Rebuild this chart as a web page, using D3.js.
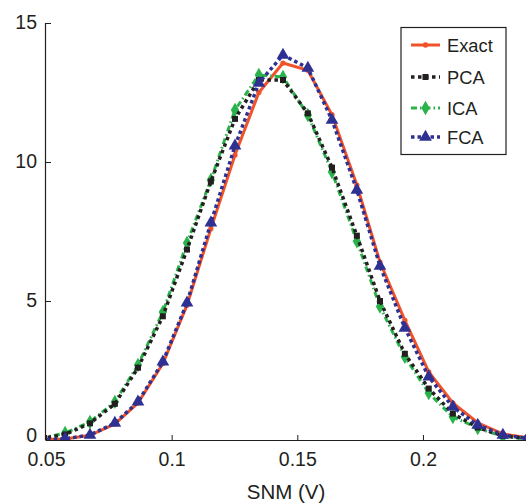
<!DOCTYPE html>
<html><head><meta charset="utf-8">
<script src="https://cdn.jsdelivr.net/npm/d3@7"></script>
<style>body{margin:0;background:#fff}svg{display:block}text{font-family:"Liberation Sans",Arial,sans-serif;fill:#231f20}</style>
</head><body>
<svg id="c" width="526" height="504"></svg>
<script>
const snm   = [0.0479,0.0576,0.0675,0.0774,0.0866,0.0965,0.1061,0.1156,0.1252,0.1347,0.1443,0.1542,0.1638,0.1737,0.1829,0.1928,0.2023,0.2119,0.2218,0.2318,0.2415];
const exact = [0.01,0.04,0.17,0.58,1.33,2.75,4.85,7.6,10.25,12.5,13.56,13.3,11.7,9.17,6.4,4.3,2.45,1.33,0.62,0.22,0.08];
const pca   = [0.05,0.2,0.6,1.3,2.6,4.45,6.85,9.3,11.55,12.95,12.95,11.75,9.8,7.35,5.0,3.1,1.85,0.95,0.45,0.15,0.05];
const ica   = [0.06,0.25,0.65,1.37,2.7,4.6,7.09,9.35,11.87,13.13,13.06,11.69,9.64,7.15,4.8,2.99,1.69,0.83,0.43,0.12,0.04];
const fca   = [0.01,0.04,0.18,0.61,1.37,2.81,4.93,7.81,10.58,12.84,13.85,13.38,11.51,8.99,6.26,4.03,2.27,1.19,0.54,0.18,0.06];
const xTicks = [0.05,0.1,0.15,0.2];
const yTicks = [0,5,10,15];
const names = ["Exact","PCA","ICA","FCA"];

const svg = d3.select("#c");
const x = d3.scaleLinear().domain([0.05,0.241]).range([46,526]);
const y = d3.scaleLinear().domain([0,15]).range([440,23]);

svg.append("defs").append("clipPath").attr("id","clip")
  .append("rect").attr("x",46).attr("y",0).attr("width",480).attr("height",441);

const series = [
  {name:"Exact", vals:exact, color:"#f0522a", dash:null, width:3, marker:"circle", msize:22},
  {name:"ICA", vals:ica, color:"#2bb34b", dash:"6,3,1.5,3", width:3, marker:"diamond", msize:60},
  {name:"PCA", vals:pca, color:"#231f20", dash:"3.5,3.5", width:3.5, marker:"square", msize:36},
  {name:"FCA", vals:fca, color:"#2e3192", dash:"3.5,3", width:3.5, marker:"triangle", msize:70}
];
const sym = {circle:d3.symbolCircle, diamond:d3.symbolDiamond, square:d3.symbolSquare, triangle:d3.symbolTriangle};

const plot = svg.append("g").attr("clip-path","url(#clip)");
const line = d3.line().x((d,i)=>x(snm[i])).y(d=>y(d));
series.forEach(s=>{
  const g = plot.append("g");
  g.append("path").attr("d",line(s.vals)).attr("fill","none").attr("stroke",s.color)
    .attr("stroke-width",s.width).attr("stroke-dasharray",s.dash);
  g.selectAll("path.m").data(s.vals).join("path").attr("class","m")
    .attr("transform",(d,i)=>`translate(${x(snm[i])},${y(d)})`)
    .attr("d",d3.symbol().type(sym[s.marker]).size(s.msize)).attr("fill",s.color);
});

// axes
const xa = svg.append("g").attr("transform","translate(0,440)")
  .call(d3.axisBottom(x).tickValues(xTicks).tickSize(-5).tickPadding(12).tickFormat(d=>String(d)));
const ya = svg.append("g").attr("transform","translate(46,0)")
  .call(d3.axisLeft(y).tickValues(yTicks).tickSize(-5).tickPadding(9).tickFormat(d=>String(d)));
[xa,ya].forEach(a=>{
  a.select(".domain").attr("stroke","#231f20").attr("stroke-width",1.2);
  a.selectAll(".tick line").attr("stroke","#231f20");
  a.selectAll("text").attr("font-size",19.5).attr("font-family","Liberation Sans, Arial, sans-serif").attr("fill","#231f20");
});
ya.selectAll(".tick text").attr("dy",d=>d===0?"0.1em":"0.3em");
ya.select(".domain").attr("d","M-0.5,23V440.5");
xa.select(".domain").attr("d","M46,0.5H526");

svg.append("text").attr("x",286).attr("y",499).attr("text-anchor","middle").attr("font-size",20.5).text("SNM (V)");

// legend
const lg = svg.append("g");
lg.append("rect").attr("x",401).attr("y",27.5).attr("width",105).attr("height",127)
  .attr("fill","#fff").attr("stroke","#231f20").attr("stroke-width",1.2);
const order = names.map(n=>series.find(s=>s.name===n));
const ly = [45,77,108,137];
order.forEach((s,i)=>{
  lg.append("line").attr("x1",411).attr("x2",440).attr("y1",ly[i]).attr("y2",ly[i])
    .attr("stroke",s.color).attr("stroke-width",s.width).attr("stroke-dasharray",s.dash);
  lg.append("path").attr("transform",`translate(425.5,${ly[i]})`)
    .attr("d",d3.symbol().type(sym[s.marker]).size(s.msize)).attr("fill",s.color);
  lg.append("text").attr("x",447).attr("y",ly[i]+6.5).attr("font-size",18.3).text(s.name);
});
</script>
</body></html>
